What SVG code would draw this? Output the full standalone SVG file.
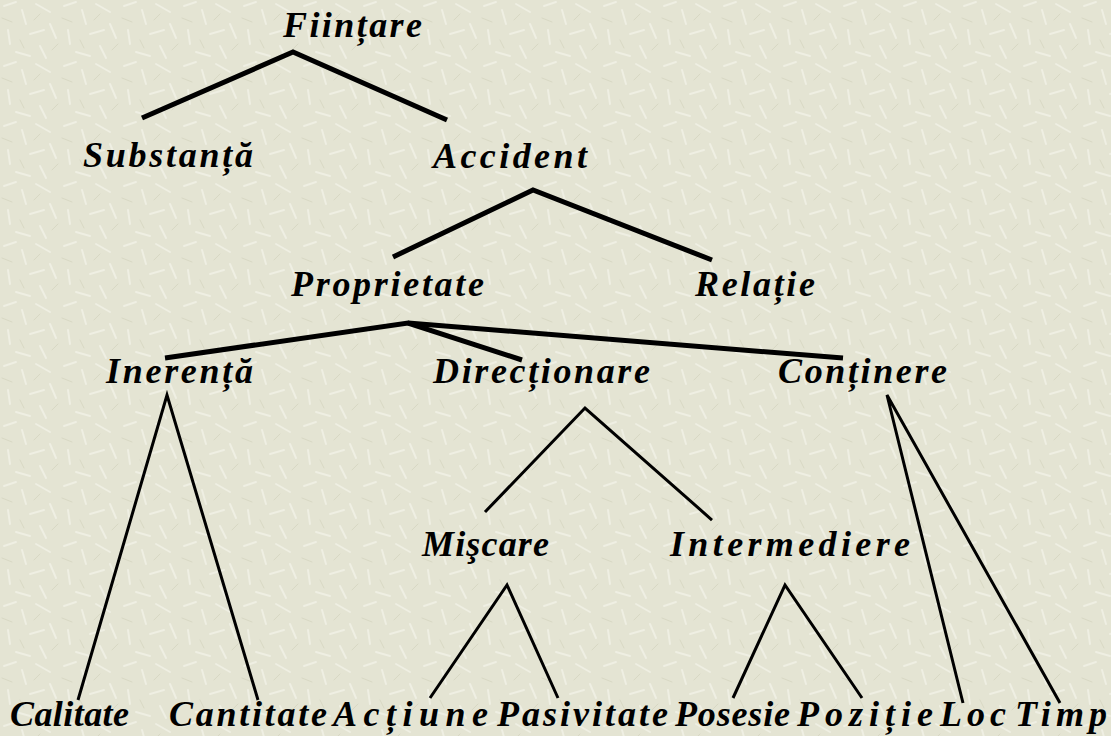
<svg xmlns="http://www.w3.org/2000/svg" width="1111" height="736" viewBox="0 0 1111 736">
<defs>
<pattern id="tex" width="60" height="60" patternUnits="userSpaceOnUse">
<rect width="60" height="60" fill="#e4e4d3"/>
<g stroke="#efefe3" stroke-width="2" stroke-linecap="round">
<line x1="4" y1="6" x2="16" y2="2"/>
<line x1="22" y1="10" x2="26" y2="24"/>
<line x1="36" y1="4" x2="50" y2="12"/>
<line x1="8" y1="30" x2="10" y2="44"/>
<line x1="30" y1="34" x2="44" y2="30"/>
<line x1="50" y1="24" x2="56" y2="38"/>
<line x1="16" y1="52" x2="30" y2="56"/>
<line x1="40" y1="46" x2="46" y2="58"/>
</g>
<g stroke="#d8d8c4" stroke-width="1" stroke-linecap="round">
<line x1="2" y1="18" x2="12" y2="22"/>
<line x1="34" y1="20" x2="40" y2="14"/>
<line x1="20" y1="40" x2="24" y2="48"/>
<line x1="52" y1="50" x2="58" y2="44"/>
</g>
</pattern>
<style>
.t{font-family:"Liberation Serif","Times New Roman",serif;font-weight:bold;font-style:italic;font-size:36px;fill:#000}
.c1{stroke:#000;stroke-width:5;fill:none;stroke-linejoin:miter}
.c2{stroke:#000;stroke-width:3;fill:none}
</style>
</defs>
<rect width="1111" height="736" fill="url(#tex)"/>
<g id="connectors">
<polyline class="c1" points="142,118 293,52 447,120"/>
<polyline class="c1" points="393,257 533,190 712,260"/>
<polyline class="c1" points="165,358 408,323 522,360"/>
<polyline class="c1" points="408,323 843,358"/>
<polyline class="c2" points="78,700 167,395 258,700"/>
<polyline class="c2" points="485,512 585,408 712,520"/>
<polyline class="c2" points="963,703 887,395 1060,703"/>
<polyline class="c2" points="430,698 507,585 558,698"/>
<polyline class="c2" points="733,698 785,585 862,698"/>
</g>
<g id="n-fiintare"><text class="t" x="283" y="37" textLength="139" lengthAdjust="spacing">Ființare</text></g>
<g id="n-substanta"><text class="t" x="83" y="167" textLength="170" lengthAdjust="spacing">Substanță</text></g>
<g id="n-accident"><text class="t" x="433" y="168" textLength="154" lengthAdjust="spacing">Accident</text></g>
<g id="n-proprietate"><text class="t" x="291" y="296" textLength="193" lengthAdjust="spacing">Proprietate</text></g>
<g id="n-relatie"><text class="t" x="695" y="296" textLength="120" lengthAdjust="spacing">Relație</text></g>
<g id="n-inerenta"><text class="t" x="106" y="383" textLength="147" lengthAdjust="spacing">Inerență</text></g>
<g id="n-directionare"><text class="t" x="433" y="383" textLength="217" lengthAdjust="spacing">Direcționare</text></g>
<g id="n-continere"><text class="t" x="778" y="383" textLength="169" lengthAdjust="spacing">Conținere</text></g>
<g id="n-miscare"><text class="t" x="422" y="556" textLength="127" lengthAdjust="spacing">Mişcare</text></g>
<g id="n-intermediere"><text class="t" x="670" y="556" textLength="240" lengthAdjust="spacing">Intermediere</text></g>
<g id="n-calitate"><text class="t" x="10" y="726" textLength="119" lengthAdjust="spacing">Calitate</text></g>
<g id="n-cantitate"><text class="t" x="169" y="726" textLength="158" lengthAdjust="spacing">Cantitate</text></g>
<g id="n-actiune"><text class="t" x="333" y="726" textLength="155" lengthAdjust="spacing">Acțiune</text></g>
<g id="n-pasivitate"><text class="t" x="497" y="726" textLength="171" lengthAdjust="spacing">Pasivitate</text></g>
<g id="n-posesie"><text class="t" x="675" y="726" textLength="115" lengthAdjust="spacing">Posesie</text></g>
<g id="n-pozitie"><text class="t" x="797" y="726" textLength="136" lengthAdjust="spacing">Poziție</text></g>
<g id="n-loc"><text class="t" x="940" y="726" textLength="66" lengthAdjust="spacing">Loc</text></g>
<g id="n-timp"><text class="t" x="1015" y="726" textLength="92" lengthAdjust="spacing">Timp</text></g>
</svg>
